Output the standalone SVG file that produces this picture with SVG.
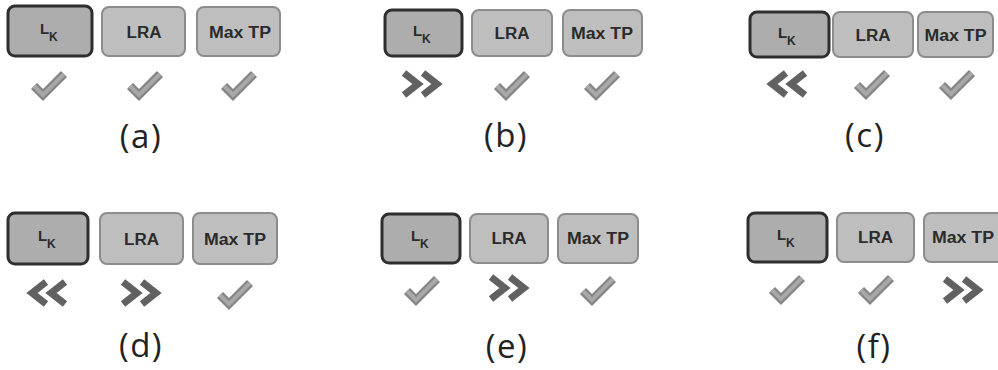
<svg xmlns="http://www.w3.org/2000/svg" xmlns:xlink="http://www.w3.org/1999/xlink" width="998" height="370" viewBox="0 0 998 370">
<style>
.bk{fill:#adadad;stroke:#2e2e2e;stroke-width:3}
.bo{fill:#bebebe;stroke:#8c8c8c;stroke-width:2}
.t{font-family:"Liberation Sans",Arial,sans-serif;font-weight:bold;font-size:16px;fill:#2b2b2b;text-anchor:middle}
.l{font-family:"Liberation Sans",Arial,sans-serif;font-weight:bold;font-size:15px;fill:#2b2b2b}
.k{font-family:"Liberation Sans",Arial,sans-serif;font-weight:bold;font-size:12px;fill:#2b2b2b}
.cap{font-family:"Open Sans","Noto Sans",sans-serif;font-size:33px;fill:#222;text-anchor:middle;letter-spacing:1.5px}
</style>
<defs>
<g id="chk">
<path d="M-15,1 L-6,10 L15,-11" fill="none" stroke="#858585" stroke-width="8.5"/>
<path d="M-15,1 L-6,10 L15,-11" fill="none" stroke="#a8a8a8" stroke-width="4"/>
</g>
<g id="fw" fill="none" stroke="#616161" stroke-width="7">
<path d="M-18,-11 L-4,0 L-18,11"/>
<path d="M1,-11 L15,0 L1,11"/>
</g>
<g id="bw" fill="none" stroke="#616161" stroke-width="7">
<path d="M18,-11 L4,0 L18,11"/>
<path d="M-1,-11 L-15,0 L-1,11"/>
</g>
</defs>
<rect width="998" height="370" fill="#ffffff"/>

<g id="panel-a">
<g id="a-lk"><rect class="bk" x="8" y="6" width="84" height="50" rx="7"/><text class="l" x="40" y="34">L</text><text class="k" x="49" y="41">K</text></g>
<g id="a-lra"><rect class="bo" x="102" y="7" width="83" height="49" rx="7"/><text class="t" x="144" y="38" textLength="35" lengthAdjust="spacingAndGlyphs">LRA</text></g>
<g id="a-maxtp"><rect class="bo" x="197" y="7" width="83" height="49" rx="7"/><text class="t" x="240" y="38" textLength="62" lengthAdjust="spacingAndGlyphs">Max TP</text></g>
<use href="#chk" x="49" y="85"/><use href="#chk" x="145" y="85"/><use href="#chk" x="239" y="85"/>
<text class="cap" x="141" y="148">(a)</text>
</g>

<g id="panel-b">
<g id="b-lk"><rect class="bk" x="385" y="10" width="77" height="46" rx="7"/><text class="l" x="413" y="36">L</text><text class="k" x="422" y="43">K</text></g>
<g id="b-lra"><rect class="bo" x="472" y="10" width="80" height="46" rx="7"/><text class="t" x="512" y="39" textLength="35" lengthAdjust="spacingAndGlyphs">LRA</text></g>
<g id="b-maxtp"><rect class="bo" x="563" y="10" width="79" height="46" rx="7"/><text class="t" x="602" y="39" textLength="62" lengthAdjust="spacingAndGlyphs">Max TP</text></g>
<use href="#fw" x="422" y="84"/><use href="#chk" x="512" y="85"/><use href="#chk" x="602" y="85"/>
<text class="cap" x="506" y="147">(b)</text>
</g>

<g id="panel-c">
<g id="c-lk"><rect class="bk" x="750" y="12" width="79" height="45" rx="7"/><text class="l" x="778" y="38">L</text><text class="k" x="787" y="45">K</text></g>
<g id="c-lra"><rect class="bo" x="833" y="12" width="80" height="45" rx="7"/><text class="t" x="873" y="41" textLength="35" lengthAdjust="spacingAndGlyphs">LRA</text></g>
<g id="c-maxtp"><rect class="bo" x="918" y="12" width="75" height="45" rx="7"/><text class="t" x="955.5" y="41" textLength="62" lengthAdjust="spacingAndGlyphs">Max TP</text></g>
<use href="#bw" x="787" y="84"/><use href="#chk" x="872" y="84"/><use href="#chk" x="957" y="84"/>
<text class="cap" x="865" y="147">(c)</text>
</g>

<g id="panel-d">
<g id="d-lk"><rect class="bk" x="8" y="213" width="80" height="51" rx="7"/><text class="l" x="38" y="241">L</text><text class="k" x="47" y="248">K</text></g>
<g id="d-lra"><rect class="bo" x="100" y="213" width="83" height="51" rx="7"/><text class="t" x="141.5" y="245" textLength="35" lengthAdjust="spacingAndGlyphs">LRA</text></g>
<g id="d-maxtp"><rect class="bo" x="193" y="213" width="84" height="51" rx="7"/><text class="t" x="235" y="245" textLength="62" lengthAdjust="spacingAndGlyphs">Max TP</text></g>
<use href="#bw" x="47" y="293"/><use href="#fw" x="141" y="293"/><use href="#chk" x="235" y="294"/>
<text class="cap" x="141" y="357">(d)</text>
</g>

<g id="panel-e">
<g id="e-lk"><rect class="bk" x="382" y="214" width="78" height="49" rx="7"/><text class="l" x="411" y="241">L</text><text class="k" x="420" y="248">K</text></g>
<g id="e-lra"><rect class="bo" x="470" y="214" width="78" height="49" rx="7"/><text class="t" x="509" y="244" textLength="35" lengthAdjust="spacingAndGlyphs">LRA</text></g>
<g id="e-maxtp"><rect class="bo" x="558" y="214" width="80" height="49" rx="7"/><text class="t" x="598" y="244" textLength="62" lengthAdjust="spacingAndGlyphs">Max TP</text></g>
<use href="#chk" x="422" y="290"/><use href="#fw" x="509" y="288"/><use href="#chk" x="598" y="290"/>
<text class="cap" x="507" y="358">(e)</text>
</g>

<g id="panel-f">
<g id="f-lk"><rect class="bk" x="748" y="213" width="79" height="49" rx="7"/><text class="l" x="777" y="240">L</text><text class="k" x="786" y="247">K</text></g>
<g id="f-lra"><rect class="bo" x="837" y="213" width="77" height="49" rx="7"/><text class="t" x="875.5" y="243" textLength="35" lengthAdjust="spacingAndGlyphs">LRA</text></g>
<g id="f-maxtp"><rect class="bo" x="924" y="213" width="80" height="49" rx="7"/><text class="t" x="963" y="243" textLength="62" lengthAdjust="spacingAndGlyphs">Max TP</text></g>
<use href="#chk" x="787" y="289"/><use href="#chk" x="876" y="289"/><use href="#fw" x="963" y="290"/>
<text class="cap" x="874" y="358">(f)</text>
</g>

<g id="connectors"/>
</svg>
